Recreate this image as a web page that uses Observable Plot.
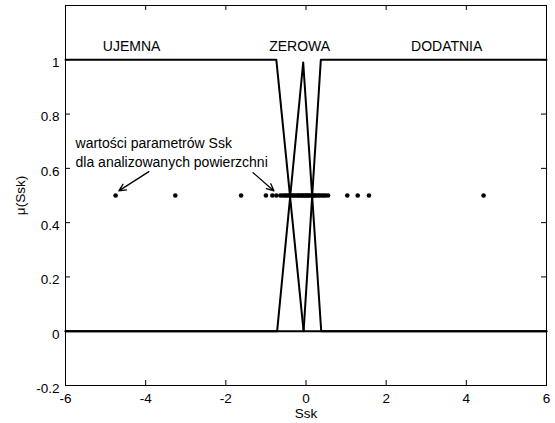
<!DOCTYPE html>
<html>
<head>
<meta charset="utf-8">
<script src="https://cdn.jsdelivr.net/npm/d3@7"></script>
<script src="https://cdn.jsdelivr.net/npm/@observablehq/plot@0.6"></script>
<style>
  html, body { margin: 0; padding: 0; background: #fff; }
</style>
</head>
<body>
<div id="chart"></div>
<script>
// Membership functions (breakpoints)
const ujemnaX = [-6, -0.74, -0.06, 6];
const ujemnaY = [1, 1, 0, 0];
const zerowaX = [-6, -0.72, -0.07, 0.38, 6];
const zerowaY = [0, 0, 0.99, 0, 0];
const dodatniaX = [-6, -0.06, 0.37, 6];
const dodatniaY = [0, 0, 1, 1];

// Ssk values for analysed surfaces (plotted at mu = 0.5)
const sskValues = [-4.75, -3.26, -1.62, -1.0, -0.84, -0.74, -0.64, -0.58, -0.53, -0.49, -0.44,
  -0.4, -0.35, -0.31, -0.27, -0.22, -0.19, -0.15, -0.11, -0.08, -0.04, -0.01, 0.03, 0.06,
  0.1, 0.14, 0.18, 0.21, 0.25, 0.3, 0.34, 0.39, 0.44, 0.49, 0.55, 1.03, 1.29, 1.57, 4.43];
const sskMu = 0.5;

// Region labels
const regionLabels = ["UJEMNA", "ZEROWA", "DODATNIA"];
const regionX = [-4.35, -0.16, 3.51];
const regionY = 1.05;

// Annotation
const noteLines = ["wartości parametrów Ssk", "dla analizowanych powierzchni"];
const noteX = -5.75;
const noteY = [0.69, 0.622];
const arrowX1 = [-3.92, -1.32];
const arrowY1 = [0.588, 0.584];
const arrowX2 = [-4.67, -0.80];
const arrowY2 = [0.517, 0.517];

// Ticks
const xTicks = [-6, -4, -2, 0, 2, 4, 6];
const yTicks = [-0.2, 0, 0.2, 0.4, 0.6, 0.8, 1];
const yTickMarks = [-0.2, 0, 0.2, 0.4, 0.6, 0.8, 1, 1.2];

const W = 555, H = 423;
const mL = 65, mR = 9, mT = 5, mB = 38;
const fw = W - mL - mR, fh = H - mT - mB;
const font = "Liberation Sans, Arial, Helvetica, sans-serif";

const toPts = (xs, ys) => xs.map((x, i) => ({x, y: ys[i]}));
const lines = [toPts(ujemnaX, ujemnaY), toPts(zerowaX, zerowaY), toPts(dodatniaX, dodatniaY)];
const arrows = arrowX1.map((x1, i) => ({x1, y1: arrowY1[i], x2: arrowX2[i], y2: arrowY2[i]}));

const chart = Plot.plot({
  width: W, height: H,
  marginLeft: mL, marginRight: mR, marginTop: mT, marginBottom: mB,
  style: {fontFamily: font, fontSize: "13px", background: "white", color: "black"},
  x: {domain: [-6, 6], axis: null},
  y: {domain: [-0.2, 1.2], axis: null},
  marks: [
    ...lines.map(pts => Plot.line(pts, {x: "x", y: "y", stroke: "black", strokeWidth: 2})),
    Plot.dot(sskValues, {x: d => d, y: () => sskMu, r: 2.3, fill: "black", stroke: null}),
    Plot.text(regionLabels, {x: (d, i) => regionX[i], y: () => regionY, text: d => d, fontSize: 14, fill: "black"}),
    Plot.text(noteLines, {x: () => noteX, y: (d, i) => noteY[i], text: d => d, textAnchor: "start", fontSize: 14, fill: "black"}),
    Plot.arrow(arrows, {x1: "x1", y1: "y1", x2: "x2", y2: "y2", stroke: "black", strokeWidth: 1.3, headLength: 9, headAngle: 50}),
    // inward ticks
    Plot.tickX(xTicks, {x: d => d, stroke: "black", insetTop: fh - 5}),
    Plot.tickX(xTicks, {x: d => d, stroke: "black", insetBottom: fh - 5}),
    Plot.tickY(yTickMarks, {y: d => d, stroke: "black", insetRight: fw - 5}),
    Plot.tickY(yTickMarks, {y: d => d, stroke: "black", insetLeft: fw - 5}),
    Plot.axisX(xTicks, {tickSize: 0, tickPadding: 8, tickFormat: d => String(d), label: null, fontSize: 13.5}),
    Plot.axisY(yTicks, {tickSize: 0, tickPadding: 6, tickFormat: d => String(d), label: null, fontSize: 13.5, dy: 3}),
    Plot.frame({stroke: "black", strokeWidth: 1}),
    Plot.text(["Ssk"], {frameAnchor: "bottom", lineAnchor: "middle", dy: 28, text: d => d, fontSize: 13.5}),
    Plot.text(["μ(Ssk)"], {frameAnchor: "left", textAnchor: "middle", lineAnchor: "middle", dx: -45, rotate: -90, text: d => d, fontSize: 13.5})
  ]
});
document.getElementById("chart").appendChild(chart);
</script>
</body>
</html>
